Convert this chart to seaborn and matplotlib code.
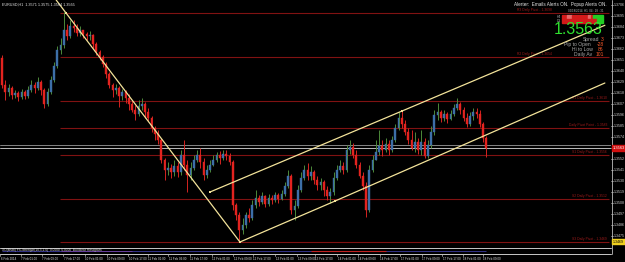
import numpy as np
import pandas as pd
import matplotlib
matplotlib.use("Agg")
import matplotlib.pyplot as plt
import seaborn as sns
from matplotlib.patches import Rectangle

# ---------------- data (prices in points, 1 point = 0.0001) ----------------
first_open = 13653
closes = [13626,13619,13623,13616,13618,13614,13619,13615,13621,13626,
          13623,13629,13621,13607,13619,13631,13645,13661,13666,13681,
          13675,13685,13683,13678,13681,13677,13675,13676,13667,13659,
          13654,13647,13637,13626,13621,13623,13615,13619,13613,13607,
          13601,13597,13605,13607,13599,13593,13583,13577,13571,13551,
          13541,13543,13539,13545,13539,13556,13546,13536,13543,13551,
          13556,13549,13536,13541,13546,13551,13556,13553,13557,13555,
          13549,13506,13496,13481,13486,13496,13493,13506,13513,13509,
          13515,13507,13513,13511,13516,13512,13517,13525,13535,13501,
          13505,13521,13533,13541,13535,13539,13531,13526,13529,13521,
          13515,13519,13533,13541,13545,13541,13561,13564,13556,13546,
          13535,13525,13501,13541,13551,13559,13565,13561,13567,13561,
          13571,13583,13593,13587,13579,13571,13563,13569,13561,13569,
          13555,13566,13579,13596,13599,13593,13597,13592,13597,13603,
          13607,13601,13593,13587,13595,13599,13597,13587,13573,13563]
highs = [13656,13631,13627,13625,13621,13620,13622,13621,13625,13631,
         13629,13634,13631,13623,13623,13635,13649,13665,13673,13699,
         13687,13691,13691,13687,13685,13681,13679,13680,13677,13669,
         13661,13656,13649,13639,13628,13627,13625,13622,13621,13617,
         13611,13606,13611,13613,13609,13603,13595,13585,13581,13573,
         13553,13549,13547,13551,13549,13561,13571,13551,13549,13556,
         13561,13563,13553,13546,13551,13556,13559,13560,13561,13561,
         13558,13551,13508,13499,13493,13499,13503,13511,13521,13516,
         13519,13516,13517,13516,13519,13518,13521,13529,13541,13537,
         13511,13526,13539,13546,13548,13545,13541,13535,13533,13531,
         13525,13523,13539,13546,13551,13549,13566,13571,13568,13561,
         13549,13539,13529,13546,13556,13571,13581,13571,13573,13571,
         13575,13587,13599,13601,13591,13583,13581,13579,13573,13581,
         13573,13571,13585,13601,13608,13601,13601,13599,13601,13607,
         13613,13609,13604,13598,13599,13603,13603,13601,13589,13575]
lows = [13623,13611,13615,13612,13613,13610,13612,13612,13613,13619,
        13618,13621,13616,13603,13605,13617,13629,13643,13657,13663,
        13671,13673,13679,13675,13675,13673,13671,13671,13663,13656,
        13651,13644,13633,13623,13614,13617,13604,13611,13608,13601,
        13599,13591,13595,13601,13593,13590,13579,13571,13567,13548,
        13531,13536,13533,13535,13534,13536,13541,13519,13531,13541,
        13549,13543,13531,13533,13539,13545,13549,13547,13551,13551,
        13546,13501,13491,13469,13477,13483,13489,13491,13503,13505,
        13507,13504,13505,13507,13509,13508,13511,13515,13523,13497,
        13491,13503,13519,13531,13531,13531,13527,13521,13521,13515,
        13511,13508,13516,13531,13539,13537,13539,13557,13553,13543,
        13533,13521,13494,13499,13539,13551,13556,13555,13559,13556,
        13559,13569,13581,13583,13576,13567,13561,13559,13557,13556,
        13553,13553,13563,13576,13591,13589,13590,13588,13591,13595,
        13601,13597,13590,13584,13585,13591,13593,13584,13569,13554]

pivot_names = ["R3 Daily Pivot - 1.3698", "R2 Daily Pivot - 1.3654", "R1 Daily Pivot - 1.3610",
               "Daily Pivot Point - 1.3583", "S1 Daily Pivot - 1.3556", "S2 Daily Pivot - 1.3512",
               "S3 Daily Pivot - 1.3469"]
pivot_prices = [1.3698, 1.3654, 1.3610, 1.3583, 1.3556, 1.3512, 1.3469]

bid_price = 1.3563
ask_price = 1.3566

# trend lines: (candle index, price)
down_line_x = [19.7, 73.2]
down_line_y = [1.3698, 1.3469]
low_chan_x = [73.2, 102.5, 185.5]
low_chan_y = [1.3469, 1.3510, 1.3628]
up_chan_x = [64.0, 123.1, 185.5]
up_chan_y = [1.3519, 1.3600, 1.36857]

ytick_vals = [1.3706 - 0.0011 * k for k in range(23)]

xtick_labels = ["6 Feb 2014", "7 Feb 01:00", "7 Feb 09:00", "7 Feb 17:00", "10 Feb 01:00",
                "10 Feb 09:00", "10 Feb 17:00", "11 Feb 01:00", "11 Feb 09:00", "11 Feb 17:00",
                "12 Feb 01:00", "12 Feb 09:00", "12 Feb 17:00", "13 Feb 01:00", "13 Feb 09:00",
                "13 Feb 17:00", "14 Feb 01:00", "14 Feb 09:00", "14 Feb 17:00", "17 Feb 01:00",
                "17 Feb 09:00", "17 Feb 17:00", "18 Feb 01:00", "18 Feb 09:00"]
xtick_pos = [-0.6, 5.8, 12.3, 18.8, 25.5, 32.3, 38.8, 44.9, 51.1, 57.8, 64.6, 71.1,
             77.2, 84.0, 90.8, 96.3, 103.1, 109.5, 116.3, 122.5, 129.2, 135.4, 141.8, 148.0]

info_labels = ["Spread", "Pip to Open", "Hi to Low", "Daily Av"]
info_values = ["3", "-28", "86", "101"]

# ---------------- figure ----------------
sns.set_style("dark", {"axes.facecolor": "black", "figure.facecolor": "black"})
plt.rcParams["font.family"] = ["Liberation Sans", "DejaVu Sans"]

W, H = 625, 262
fig = plt.figure(figsize=(W / 100, H / 100), dpi=100, facecolor="black")

def fx(px):
    return px / W

def fy(py):
    return 1 - py / H

MAIN_BOTTOM = 247
AXIS_X = 611
ax = fig.add_axes([0, fy(MAIN_BOTTOM), fx(AXIS_X), MAIN_BOTTOM / H])
ax.set_facecolor("black")
for s in ax.spines.values():
    s.set_visible(False)
ax.set_xticks([])
ax.set_yticks([])
ax.grid(False)

PX_PER_BAR = 3.25
x_left = -2 / PX_PER_BAR
x_right = (AXIS_X - 2) / PX_PER_BAR
top_price = 1.3711
ax.set_xlim(x_left, x_right)
ax.set_ylim(top_price - 0.0247, top_price)

def px_to_x(px):
    return (px - 2) / PX_PER_BAR

n = len(closes)
opens = [first_open] + closes[:-1]
df = pd.DataFrame({
    "i": np.arange(n),
    "open": np.array(opens) / 1e4,
    "close": np.array(closes) / 1e4,
    "high": np.array(highs) / 1e4,
    "low": np.array(lows) / 1e4,
})
df["up"] = df["close"] >= df["open"]
df["body_lo"] = df[["open", "close"]].min(axis=1)
df["body_h"] = (df["close"] - df["open"]).abs().clip(lower=0.00008)

UP_BODY = "#3d6fa8"
UP_WICK = "#4d8a3a"
DN_BODY = "#e3231f"
DN_WICK = "#d42420"

# pivot lines
piv_start = 17.8
label_end_px = [552, 552, 607, 607, 607, 607, 607]
for name, p, lx in zip(pivot_names, pivot_prices, label_end_px):
    ax.hlines(p, piv_start, x_right - 0.5, color="#801212", lw=0.8, zorder=1)
    ax.text(px_to_x(lx), p + 0.00005, name, color="#9a1a1a", fontsize=2.4,
            ha="right", va="bottom", zorder=2)

# bid / ask lines
ax.axhline(ask_price, color="#9a9a9a", lw=0.6, zorder=1)
ax.axhline(bid_price, color="#d8d8d8", lw=0.6, zorder=1)

# candles
for up, wick, body in [(True, UP_WICK, UP_BODY), (False, DN_WICK, DN_BODY)]:
    d = df[df["up"] == up]
    ax.vlines(d["i"], d["low"], d["high"], color=wick, lw=0.7, zorder=3)
    ax.bar(d["i"], d["body_h"], bottom=d["body_lo"], width=0.6, color=body,
           edgecolor=body, linewidth=0.3, zorder=4)

# trend lines
YEL = "#f3e39a"
slope = (down_line_y[1] - down_line_y[0]) / (down_line_x[1] - down_line_x[0])
x_top = down_line_x[0] + (top_price - down_line_y[0]) / slope
tl = pd.DataFrame({"x": [x_top, down_line_x[1]], "y": [top_price, down_line_y[1]]})
sns.lineplot(data=tl, x="x", y="y", ax=ax, color=YEL, lw=0.9, zorder=5)
sns.lineplot(data=pd.DataFrame({"x": low_chan_x, "y": low_chan_y}), x="x", y="y",
             ax=ax, color=YEL, lw=0.9, zorder=5)
sns.lineplot(data=pd.DataFrame({"x": up_chan_x, "y": up_chan_y}), x="x", y="y",
             ax=ax, color=YEL, lw=0.9, zorder=5)
ax.scatter([down_line_x[0], down_line_x[1], low_chan_x[1], up_chan_x[0], up_chan_x[1]],
           [down_line_y[0], down_line_y[1], low_chan_y[1], up_chan_y[0], up_chan_y[1]],
           s=3, marker="s", color=YEL, zorder=6, linewidths=0)
ax.set_xlabel("")
ax.set_ylabel("")
ax.set_xlim(x_left, x_right)
ax.set_ylim(top_price - 0.0247, top_price)

def price_to_py(p):
    return (top_price - p) / 0.0001

# ---------------- right price axis ----------------
fig.add_artist(plt.Line2D([fx(AXIS_X + 0.5)] * 2, [fy(0), fy(254)], color="#bdbdbd", lw=0.6))
cur_py = price_to_py(bid_price)
low_py = price_to_py(pivot_prices[-1])
for v in ytick_vals:
    py = price_to_py(v)
    if py > MAIN_BOTTOM - 2:
        continue
    fig.add_artist(plt.Line2D([fx(AXIS_X), fx(AXIS_X + 2)], [fy(py)] * 2, color="#bdbdbd", lw=0.5))
    if abs(py - cur_py) < 5 or abs(py - low_py) < 4:
        continue
    fig.text(fx(AXIS_X + 3), fy(py), f"{v:.4f}", color="#d0d0d0", fontsize=2.6, va="center", ha="left")
# current price box
fig.patches.append(Rectangle((fx(AXIS_X + 1), fy(cur_py + 3)), fx(14), 6 / H, transform=fig.transFigure,
                             color="#d01010", zorder=3))
fig.text(fx(AXIS_X + 2), fy(cur_py), "1.3563", color="white", fontsize=2.9, va="center", ha="left", zorder=4)
# lowest pivot label box
fig.patches.append(Rectangle((fx(AXIS_X + 1), fy(low_py + 2.5)), fx(14), 5 / H, transform=fig.transFigure,
                             color="#f0d020", zorder=3))
fig.text(fx(AXIS_X + 2), fy(low_py), "1.3469", color="black", fontsize=2.6, va="center", ha="left", zorder=4)

# ---------------- sub window & time axis ----------------
fig.add_artist(plt.Line2D([0, fx(AXIS_X)], [fy(247.5)] * 2, color="#c8c8c8", lw=0.7))
fig.add_artist(plt.Line2D([0, fx(AXIS_X)], [fy(253.5)] * 2, color="#c8c8c8", lw=0.7))
fig.text(fx(2), fy(250.3), "XO(Multi) FX-Strength(10,5,1.0)  0.0000  0.0000  Bull/Bear Histogram",
         color="#dddddd", fontsize=2.3, va="center", ha="left")
sub = fig.add_axes([0, fy(253), fx(AXIS_X), 5 / H])
sub.set_facecolor("none")
sub.set_xlim(x_left, x_right)
sub.set_ylim(-1, 1)
sub.axis("off")
sub.hlines(0, 0, n - 1, color="#3a3aa0", lw=0.6)
sub.hlines(0, 95, 118, color="#c02020", lw=0.8)
sub.hlines(0, 18, 40, color="#7040a0", lw=0.6)

for lab, pos in zip(xtick_labels, xtick_pos):
    px = 2 + pos * PX_PER_BAR
    fig.add_artist(plt.Line2D([fx(px)] * 2, [fy(254), fy(256)], color="#bdbdbd", lw=0.5))
    fig.text(fx(px + 0.5), fy(258.5), lab, color="#e0e0e0", fontsize=2.15, va="center", ha="left")

# ---------------- overlay texts ----------------
fig.text(fx(2), fy(4.5), "EURUSD,H1  1.3571 1.3575 1.3564 1.3565", color="#e6e6e6",
         fontsize=2.7, va="center", ha="left")
fig.text(fx(607), fy(4.5), "Alerter:  Emails Alerts ON.  Popup Alerts ON.", color="#e6e6e6",
         fontsize=3.3, va="center", ha="right")
fig.text(fx(604), fy(11.2), "02/18/2014  H1  04 : 28 : 31", color="#bbbbbb",
         fontsize=2.1, va="center", ha="right")
# strength bars
fig.text(fx(561), fy(16.5), "H4", color="#aaaaaa", fontsize=2.4, va="center", ha="right")
fig.text(fx(561), fy(20.5), "D1", color="#aaaaaa", fontsize=2.4, va="center", ha="right")
bar_rows = [
    [("#d41a1a", 562, 567), ("#e86a6a", 567, 572), ("#d41a1a", 572, 588), ("#e86a6a", 588, 591),
     ("#d41a1a", 591, 593), ("#22cc22", 593, 603)],
    [("#d41a1a", 562, 597), ("#22cc22", 597, 603)],
]
for r, row in enumerate(bar_rows):
    y0 = 15 + r * 4
    for col, a, b in row:
        fig.patches.append(Rectangle((fx(a), fy(y0 + 3.5)), fx(b - a), 3.5 / H,
                                     transform=fig.transFigure, color=col, zorder=3))
fig.text(fx(603), fy(34.5), "1.3563", color="#2fe02f", fontsize=11.5, va="baseline", ha="right")
label_right = [599, 591, 593, 592]
for k, (lab, val) in enumerate(zip(info_labels, info_values)):
    yb = 41.2 + 4.8 * k
    fig.text(fx(label_right[k]), fy(yb), lab, color="#a8a8a8", fontsize=3.6, va="baseline", ha="right")
    fig.text(fx(603.5), fy(yb), val, color="#ff5a2a", fontsize=3.6, va="baseline", ha="right")

fig.savefig("out.png", dpi=100, facecolor="black")
